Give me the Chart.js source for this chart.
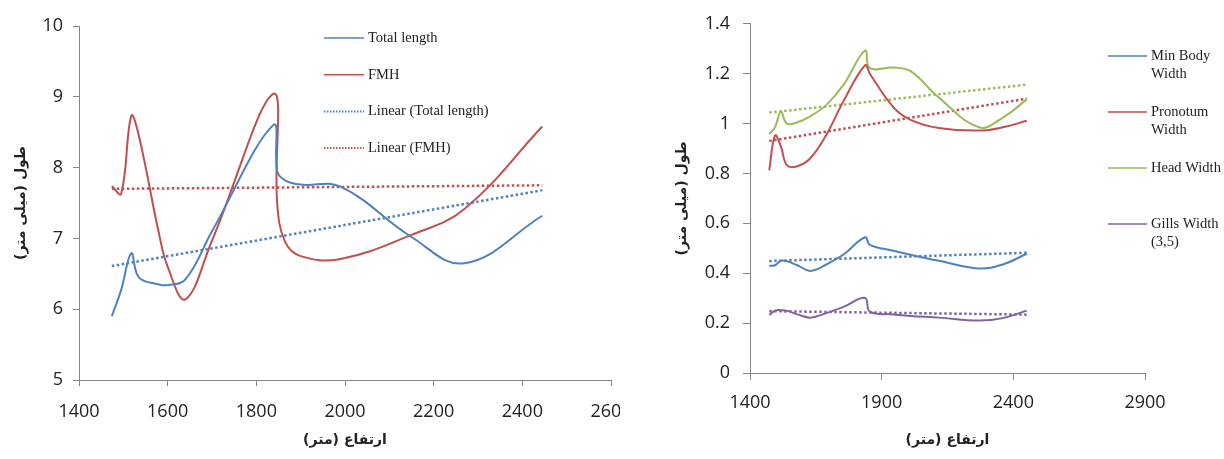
<!DOCTYPE html>
<html>
<head>
<meta charset="utf-8">
<script src="https://cdn.jsdelivr.net/npm/chart.js@4.4.1/dist/chart.umd.min.js"></script>
<style>
  html, body { margin: 0; padding: 0; background: #fff; }
  #wrap { position: relative; width: 1224px; height: 459px; overflow: hidden; }
  canvas { position: absolute; top: 0; }
  #left { left: 0; }
  #right { left: 620px; }
</style>
</head>
<body>
<div id="wrap">
  <canvas id="left" width="620" height="459"></canvas>
  <canvas id="right" width="604" height="459"></canvas>
</div>
<script>
// left chart - length against altitude
const altLeft = [1474, 1495, 1518, 1535, 1580, 1600, 1640, 1700, 1838, 1847, 1865, 1900, 1990, 2150, 2270, 2445];
const totalLength = [5.9, 6.27, 6.79, 6.45, 6.35, 6.34, 6.42, 7.1, 8.6, 7.95, 7.82, 7.76, 7.73, 7.02, 6.65, 7.32];
const fmh = [7.74, 7.63, 8.73, 8.45, 7.08, 6.6, 6.14, 6.97, 9.04, 7.5, 6.95, 6.75, 6.71, 7.05, 7.42, 8.58];
const trendAltLeft = [1474, 2445];
const trendTotal = [6.61, 7.68];
const trendFmh = [7.70, 7.75];

// right chart - widths against altitude
const altRight = [1473, 1495, 1517, 1540, 1580, 1630, 1690, 1755, 1837, 1855, 1945, 2010, 2117, 2270, 2360, 2451];
const minBody = [0.43, 0.432, 0.45, 0.448, 0.432, 0.409, 0.435, 0.475, 0.544, 0.514, 0.49, 0.474, 0.45, 0.419, 0.435, 0.478];
const pronotum = [0.813, 0.952, 0.91, 0.833, 0.829, 0.862, 0.955, 1.09, 1.234, 1.2, 1.065, 1.015, 0.982, 0.972, 0.985, 1.011];
const headWidth = [0.958, 0.985, 1.048, 1.0, 1.005, 1.03, 1.075, 1.155, 1.293, 1.222, 1.225, 1.21, 1.104, 0.985, 1.024, 1.097];
const gills = [0.233, 0.25, 0.252, 0.25, 0.235, 0.222, 0.24, 0.265, 0.301, 0.246, 0.235, 0.229, 0.222, 0.21, 0.22, 0.25];
const trendAltRight = [1473, 2451];
const trendMinBody = [0.449, 0.482];
const trendPronotum = [0.93, 1.10];
const trendHead = [1.044, 1.156];
const trendGills = [0.248, 0.234];

const xTitle = "ارتفاع (متر)\u200F";
const yTitle = "طول (میلی متر)\u200F";

const BLUE = "#4f81bd", RED = "#c0504d", GREEN = "#9bbb59", PURPLE = "#8064a2";

function pts(xs, ys) {
  return xs.map((x, i) => ({ x: x, y: ys[i] }));
}

function solid(label, xs, ys, color) {
  return { label: label, data: pts(xs, ys), borderColor: color, borderWidth: 2, tension: 0.4, pointRadius: 0 };
}

function dotted(label, xs, ys, color, noLegend) {
  return { label: label, data: pts(xs, ys), borderColor: color, borderWidth: 2.5, borderDash: [2.5, 2.5],
    pointRadius: 0, noLegend: noLegend };
}

// draws the legend entries by hand so they sit where the original has them
const handLegend = {
  id: "handLegend",
  afterDraw(chart, args, o) {
    const ctx = chart.ctx;
    ctx.save();
    ctx.font = "14.5px 'Liberation Serif'";
    ctx.textBaseline = "middle";
    ctx.textAlign = "left";
    let y = o.y;
    chart.data.datasets.forEach((ds) => {
      if (ds.noLegend) return;
      ctx.beginPath();
      ctx.strokeStyle = ds.borderColor;
      ctx.lineWidth = ds.borderDash ? 2 : 1.5;
      ctx.setLineDash(ds.borderDash ? [1.5, 1.5] : []);
      ctx.moveTo(o.x, y);
      ctx.lineTo(o.x + o.len, y);
      ctx.stroke();
      ctx.setLineDash([]);
      ctx.fillStyle = "#222";
      [].concat(ds.label).forEach((t, k) => ctx.fillText(t, o.x + o.len + 4, y + k * o.lineH));
      y += o.step;
    });
    ctx.restore();
  }
};

// plain numbers, no thousands separator
const plain = (v) => String(Math.round(v * 10) / 10);

function scales(x, y) {
  const tickFont = { family: "'Open Sans'", size: 18 };
  const titleFont = { family: "'DejaVu Sans'", size: 14, weight: "bold" };
  return {
    x: {
      type: "linear", min: x.min, max: x.max,
      ticks: { stepSize: x.step, padding: x.pad, color: "#222", font: tickFont, callback: plain },
      grid: { drawOnChartArea: false, tickLength: x.tick, color: "#868686" },
      border: { color: "#868686" },
      title: { display: true, text: xTitle, color: "#222", font: titleFont, padding: { top: 0, bottom: 10 } },
      afterFit(s) { s.height = x.h; s.paddingLeft = 0; s.paddingRight = 0; }
    },
    y: {
      min: y.min, max: y.max,
      ticks: { stepSize: y.step, padding: y.pad, color: "#222", font: tickFont, callback: plain },
      grid: { drawOnChartArea: false, tickLength: y.tick, color: "#868686" },
      border: { color: "#868686" },
      title: { display: true, text: yTitle, color: "#222", font: titleFont, padding: { top: y.tpad, bottom: 0 } },
      afterFit(s) { s.width = y.w; }
    }
  };
}

new Chart(document.getElementById("left"), {
  type: "line",
  data: {
    datasets: [
      solid("Total length", altLeft, totalLength, BLUE),
      solid("FMH", altLeft, fmh, RED),
      dotted("Linear (Total length)", trendAltLeft, trendTotal, BLUE),
      dotted("Linear (FMH)", trendAltLeft, trendFmh, RED)
    ]
  },
  options: {
    responsive: false,
    animation: false,
    layout: { padding: { top: 26, right: 9, left: 0, bottom: 0 } },
    plugins: {
      legend: { display: false },
      tooltip: { enabled: false },
      handLegend: { x: 324, y: 38, len: 40, step: 36.7, lineH: 18 }
    },
    scales: scales(
      { min: 1400, max: 2600, step: 200, pad: 15, tick: 6, h: 79 },
      { min: 5, max: 10, step: 1, pad: 10, tick: 6, w: 79, tpad: 13 }
    )
  },
  plugins: [handLegend]
});

new Chart(document.getElementById("right"), {
  type: "line",
  data: {
    datasets: [
      solid(["Min Body", "Width"], altRight, minBody, BLUE),
      solid(["Pronotum", "Width"], altRight, pronotum, RED),
      solid("Head Width", altRight, headWidth, GREEN),
      solid(["Gills Width", "(3,5)"], altRight, gills, PURPLE),
      dotted("", trendAltRight, trendMinBody, BLUE, true),
      dotted("", trendAltRight, trendPronotum, RED, true),
      dotted("", trendAltRight, trendHead, GREEN, true),
      dotted("", trendAltRight, trendGills, PURPLE, true)
    ]
  },
  options: {
    responsive: false,
    animation: false,
    layout: { padding: { top: 18, right: 79, left: 0, bottom: 0 } },
    plugins: {
      legend: { display: false },
      tooltip: { enabled: false },
      handLegend: { x: 488, y: 56, len: 39, step: 56, lineH: 18.5 }
    },
    scales: scales(
      { min: 1400, max: 2900, step: 500, pad: 12, tick: 7, h: 86 },
      { min: 0, max: 1.4, step: 0.2, pad: 13, tick: 7, w: 130, tpad: 54 }
    )
  },
  plugins: [handLegend]
});
</script>
</body>
</html>
